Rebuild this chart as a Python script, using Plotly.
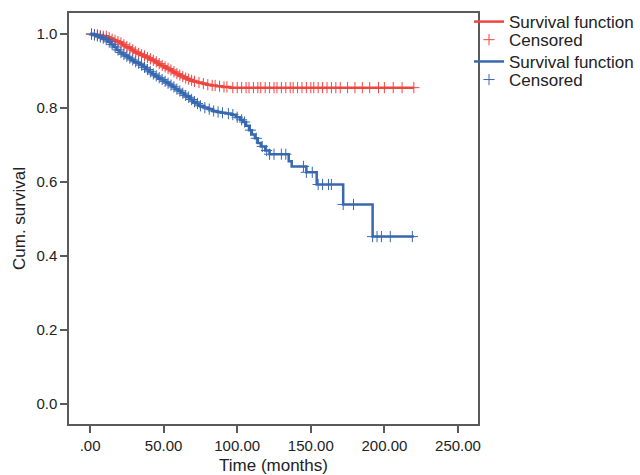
import numpy as np
import plotly.graph_objects as go

# ---- data ----
red_t = [0, 3, 6, 9, 12, 14, 16, 18, 20, 22, 24, 26, 28, 30, 32, 34, 36, 38, 40, 42, 44, 46, 48,
         50, 52, 54, 56, 58, 60, 62, 64, 66, 68, 70, 73, 76, 79, 82, 86, 90, 95, 220]
red_s = [1.0, 0.998, 0.996, 0.994, 0.990, 0.986, 0.983, 0.980, 0.976, 0.971, 0.966, 0.962, 0.957,
         0.952, 0.948, 0.944, 0.941, 0.937, 0.933, 0.929, 0.925, 0.920, 0.915, 0.911, 0.907, 0.903,
         0.898, 0.893, 0.889, 0.885, 0.881, 0.878, 0.875, 0.872, 0.869, 0.866, 0.863, 0.861, 0.859,
         0.857, 0.855, 0.855]

blue_t = [0, 2, 4, 6, 8, 10, 12, 14, 16, 18, 20, 22, 24, 26, 28, 30, 32, 34, 36, 38, 40, 42, 44, 46,
          48, 50, 52, 54, 56, 58, 60, 62, 64, 66, 68, 70, 72, 74, 77, 80, 83, 86, 89, 92, 96, 99,
          102, 104, 106, 108, 110, 112, 114, 116, 119, 122, 135, 137, 147, 154, 172, 192, 220]
blue_s = [1.0, 0.998, 0.995, 0.992, 0.989, 0.985, 0.979, 0.972, 0.965, 0.957, 0.950, 0.945, 0.940,
          0.935, 0.930, 0.925, 0.921, 0.916, 0.910, 0.904, 0.898, 0.892, 0.887, 0.882, 0.877, 0.872,
          0.867, 0.862, 0.857, 0.851, 0.846, 0.840, 0.834, 0.829, 0.823, 0.817, 0.812, 0.806, 0.801,
          0.797, 0.792, 0.789, 0.787, 0.785, 0.782, 0.775, 0.768, 0.762, 0.752, 0.740, 0.728, 0.718,
          0.705, 0.696, 0.685, 0.675, 0.656, 0.642, 0.626, 0.593, 0.539, 0.452, 0.452]

red_cens_t = [1, 3, 5, 7, 9, 11, 13, 15, 17, 19, 21, 23, 25, 27, 29, 31, 33, 35, 37, 39, 41, 43, 45,
              47, 49, 51, 53, 55, 57, 59, 61, 63, 65, 67, 69, 71, 74, 77, 80, 83, 85, 88, 91, 93,
              97, 100, 103, 106, 108, 111, 114, 116, 119, 122, 125, 127, 130, 133, 136, 138, 141,
              144, 147, 150, 152, 155, 158, 161, 164, 167, 170, 175, 180, 185, 190, 196, 200, 206,
              212, 220]
blue_cens_t = [1, 3, 5, 7, 9, 11, 13, 15, 17, 19, 21, 23, 25, 27, 29, 31, 33, 35, 37, 39, 41, 43, 45,
               47, 49, 51, 53, 55, 57, 59, 61, 63, 65, 67, 69, 71, 73, 75, 78, 81, 84, 87, 90, 94,
               97, 100, 103, 105, 109, 113, 117, 120, 122, 125, 130, 133, 145, 147, 151, 155, 158,
               162, 164, 172, 179, 192, 195, 198, 204, 219]

x_tickvals = [0, 50, 100, 150, 200, 250]
x_ticktext = [".00", "50.00", "100.00", "150.00", "200.00", "250.00"]
y_tickvals = [0.0, 0.2, 0.4, 0.6, 0.8, 1.0]
y_ticktext = ["0.0", "0.2", "0.4", "0.6", "0.8", "1.0"]


def surv_at(times, surv, tq):
    idx = np.searchsorted(np.array(times), np.array(tq), side="right") - 1
    return list(np.array(surv)[idx])


RED = "#ef4540"
BLUE = "#3868b0"

fig = go.Figure()
fig.add_trace(go.Scatter(x=red_t, y=red_s, mode="lines", line=dict(color=RED, width=2.5, shape="hv"),
                         name="Survival function", legend="legend"))
fig.add_trace(go.Scatter(x=red_cens_t, y=surv_at(red_t, red_s, red_cens_t), mode="markers",
                         marker=dict(symbol="cross-thin", size=8, line=dict(color=RED, width=1)),
                         name="Censored", legend="legend2"))
fig.add_trace(go.Scatter(x=blue_t, y=blue_s, mode="lines", line=dict(color=BLUE, width=2.5, shape="hv"),
                         name="Survival function", legend="legend3"))
fig.add_trace(go.Scatter(x=blue_cens_t, y=surv_at(blue_t, blue_s, blue_cens_t), mode="markers",
                         marker=dict(symbol="cross-thin", size=8, line=dict(color=BLUE, width=1)),
                         name="Censored", legend="legend4"))

axis_common = dict(showline=True, mirror=True, linecolor="#5a5a5a", linewidth=1.5, ticks="outside",
                   ticklen=7, tickcolor="#5a5a5a", tickwidth=1.5, showgrid=False, zeroline=False,
                   automargin=False, tickfont=dict(size=15, color="#222"))


def leg(ypos):
    return dict(x=0.978, y=ypos, xanchor="left", yanchor="middle", font=dict(size=17),
                itemwidth=30, bgcolor="rgba(0,0,0,0)", borderwidth=0)


fig.update_layout(
    width=640, height=475,
    showlegend=True,
    margin=dict(l=69, r=162, t=13, b=51, autoexpand=False),
    paper_bgcolor="white", plot_bgcolor="white",
    font=dict(family="Liberation Sans, Arial, sans-serif", color="#222"),
    xaxis=dict(range=[-14.3, 263.6], tickvals=x_tickvals, ticktext=x_ticktext,
               title=dict(text="Time (months)", font=dict(size=17), standoff=9), **axis_common),
    yaxis=dict(range=[-0.055, 1.057], tickvals=y_tickvals, ticktext=y_ticktext,
               title=dict(text="Cum. survival", font=dict(size=17), standoff=6), **axis_common),
    legend=leg(0.978),
    legend2=leg(0.934),
    legend3=leg(0.881),
    legend4=leg(0.837),
)

fig.write_html("out.html", config={"displayModeBar": False},
               post_script="document.body.style.margin='0';")
